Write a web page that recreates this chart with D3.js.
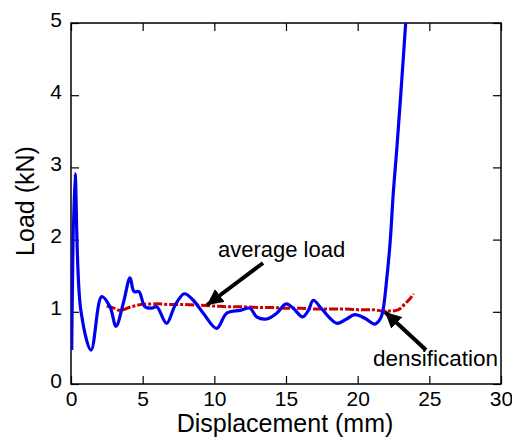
<!DOCTYPE html>
<html><head><meta charset="utf-8">
<script src="https://cdn.jsdelivr.net/npm/d3@7"></script>
<style>body{margin:0;background:#fff}svg{display:block}text{font-family:"Liberation Sans",Arial,Helvetica,sans-serif;fill:#000}</style>
</head><body><svg id="c" width="512" height="438"></svg>
<script>
const xTicks=[0,5,10,15,20,25,30];
const yTicks=[0,1,2,3,4,5];
const loadX=[0.05,0.28,0.68,1.4,2.14,2.72,3.14,3.65,4.12,4.4,4.74,5.16,5.63,5.98,6.67,7.26,7.9,8.53,9.23,10.16,10.86,11.8,12.49,12.95,13.65,14.35,15.0,15.5,16.16,16.56,16.9,17.37,18.07,18.58,19.23,19.8,20.5,21.2,21.6,21.79,22.02,22.26,22.5,22.72,23.0,23.35];
const loadY=[0.47,2.91,1.03,0.47,1.21,1.07,0.80,1.12,1.47,1.28,1.28,1.07,1.05,1.07,0.84,1.09,1.25,1.16,0.98,0.77,0.98,1.02,1.05,0.93,0.90,0.98,1.11,1.05,0.93,1.02,1.16,1.07,0.91,0.84,0.90,0.96,0.91,0.83,0.91,1.05,1.44,1.95,2.69,3.23,3.99,5.0];
const avgX=[2.49,3.0,3.42,4.2,4.93,6,7,8,9,10,11,12,13,14,15,16,17,18,19,20,21,21.8,22.3,22.7,23.0,23.3,23.6,23.9];
const avgY=[1.08,1.05,1.02,1.07,1.10,1.11,1.10,1.10,1.09,1.08,1.07,1.07,1.06,1.06,1.05,1.05,1.04,1.04,1.04,1.03,1.03,1.01,1.01,1.02,1.05,1.11,1.17,1.25];
const annText=["average load","densification"];

const svg=d3.select("#c");
const L=71,R=501,T=23,B=384;
const x=d3.scaleLinear().domain([0,30]).range([L,R]);
const y=d3.scaleLinear().domain([0,5]).range([B,T]);
const fmt=d3.format("d");

svg.append("rect").attr("x",L).attr("y",T).attr("width",R-L).attr("height",B-T).attr("fill","none").attr("stroke","#000").attr("stroke-width",1.5);

const gx=svg.append("g").attr("transform",`translate(0,${B})`).call(d3.axisBottom(x).tickValues(xTicks).tickFormat(fmt).tickSizeInner(-8).tickSizeOuter(0).tickPadding(7));
const gy=svg.append("g").attr("transform",`translate(${L},0)`).call(d3.axisLeft(y).tickValues(yTicks).tickFormat(fmt).tickSizeInner(-8).tickSizeOuter(0).tickPadding(9));
const gxt=svg.append("g").attr("transform",`translate(0,${T})`).call(d3.axisTop(x).tickValues(xTicks).tickSizeInner(-8).tickSizeOuter(0).tickFormat(""));
const gyr=svg.append("g").attr("transform",`translate(${R},0)`).call(d3.axisRight(y).tickValues(yTicks).tickSizeInner(-8).tickSizeOuter(0).tickFormat(""));
[gx,gy,gxt,gyr].forEach(g=>{g.select(".domain").remove();g.selectAll("line").attr("stroke","#000").attr("stroke-width",1.2);g.selectAll("text").style("font-size","21px").attr("font-family",null);});
gy.selectAll("text").attr("dy","0.15em");

svg.append("clipPath").attr("id","cp").append("rect").attr("x",L).attr("y",T).attr("width",R-L).attr("height",B-T);

svg.append("path").datum(avgX.map((v,i)=>[v,avgY[i]])).attr("d",d3.line().x(d=>x(d[0])).y(d=>y(d[1])).curve(d3.curveMonotoneX)).attr("fill","none").attr("stroke","#cc0000").attr("stroke-width",3).attr("stroke-dasharray","9,2,3,2");
svg.append("path").datum(loadX.map((v,i)=>[v,loadY[i]])).attr("clip-path","url(#cp)").attr("d",d3.line().x(d=>x(d[0])).y(d=>y(d[1])).curve(d3.curveCatmullRom.alpha(0.5))).attr("fill","none").attr("stroke","#0000ee").attr("stroke-width",3.2).attr("stroke-linejoin","round");

svg.append("text").attr("x",285).attr("y",432).attr("text-anchor","middle").style("font-size","25px").text("Displacement (mm)");
svg.append("text").attr("transform",`translate(34,201)rotate(-90)`).attr("text-anchor","middle").style("font-size","25px").text("Load (kN)");

svg.append("defs").append("marker").attr("id","ah").attr("viewBox","0 0 10 10").attr("refX",10).attr("refY",5).attr("markerWidth",4).attr("markerHeight",4).attr("markerUnits","strokeWidth").attr("orient","auto")
  .append("path").attr("d","M0,0L10,5L0,10z").attr("fill","#000");
svg.append("text").attr("x",218).attr("y",257).style("font-size","22px").text(annText[0]);
svg.append("line").attr("x1",263).attr("y1",263).attr("x2",207).attr("y2",305).attr("stroke","#000").attr("stroke-width",4).attr("marker-end","url(#ah)");
svg.append("text").attr("x",373).attr("y",366).style("font-size","22.5px").text(annText[1]);
svg.append("line").attr("x1",426).attr("y1",350).attr("x2",385).attr("y2",312).attr("stroke","#000").attr("stroke-width",4).attr("marker-end","url(#ah)");
</script></body></html>
